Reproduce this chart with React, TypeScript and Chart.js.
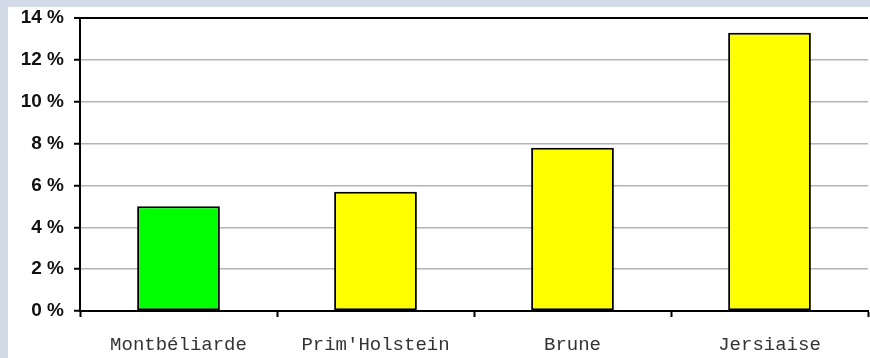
import React, { useEffect, useRef } from "react";
import { Chart, registerables } from "chart.js";

Chart.register(...registerables);

const categories = ["Montbéliarde", "Prim'Holstein", "Brune", "Jersiaise"];
const values = [5.0, 5.7, 7.8, 13.3];
const barColors = ["#00ff00", "#ffff00", "#ffff00", "#ffff00"];
const yTicks = [0, 2, 4, 6, 8, 10, 12, 14];

export default function App() {
  const ref = useRef<HTMLCanvasElement>(null);
  useEffect(() => {
    document.body.style.margin = "0";
    const chart = new Chart(ref.current!, {
      type: "bar",
      data: {
        labels: categories,
        datasets: [
          {
            data: values,
            backgroundColor: barColors,
            borderColor: "#000",
            borderWidth: 2,
            borderSkipped: false,
            categoryPercentage: 1,
            barPercentage: 0.42,
          },
        ],
      },
      options: {
        animation: false,
        responsive: false,
        maintainAspectRatio: false,
        layout: { padding: { top: 11, right: 2, left: 0, bottom: 0 } },
        plugins: { legend: { display: false }, tooltip: { enabled: false } },
        scales: {
          x: {
            offset: true,
            grid: {
              offset: true,
              drawOnChartArea: false,
              drawTicks: true,
              tickLength: 6,
              tickColor: "#000",
              tickWidth: 2,
            },
            border: { color: "#000", width: 2 },
            ticks: {
              color: "#333",
              padding: 17,
              font: { family: "'Liberation Mono', 'DejaVu Sans Mono', monospace", size: 19 },
            },
            afterFit: (s: any) => {
              s.height = 47;
              s.paddingLeft = 0;
              s.paddingRight = 0;
            },
          },
          y: {
            min: 0,
            max: 14,
            afterBuildTicks: (s: any) => {
              s.ticks = yTicks.map((v) => ({ value: v }));
            },
            grid: {
              color: (ctx: any) =>
                ctx.tick && ctx.tick.value === 14 ? "#000" : ctx.tick && ctx.tick.value === 0 ? "rgba(0,0,0,0)" : "#b4b4b4",
              lineWidth: (ctx: any) => (ctx.tick && ctx.tick.value === 14 ? 2 : 1.5),
              tickColor: "#000",
              tickLength: 6,
              tickWidth: 2,
            },
            border: { color: "#000", width: 2 },
            ticks: {
              color: "#111",
              padding: 10,
              font: { family: "'Liberation Sans', Arial, sans-serif", size: 19, weight: "bold" },
              callback: (v: any) => `${v} %`,
            },
            afterFit: (s: any) => {
              s.width = 72;
              s.paddingTop = 0;
              s.paddingBottom = 0;
            },
          },
        },
      },
    });
    return () => chart.destroy();
  }, []);
  return (
    <div
      style={{
        width: 870,
        height: 358,
        background: "#d3dbe9",
        paddingLeft: 8,
        paddingTop: 7,
        boxSizing: "border-box",
      }}
    >
      <div style={{ width: 862, height: 351, background: "#fff" }}>
        <canvas ref={ref} width={862} height={351} style={{ display: "block" }} />
      </div>
    </div>
  );
}
